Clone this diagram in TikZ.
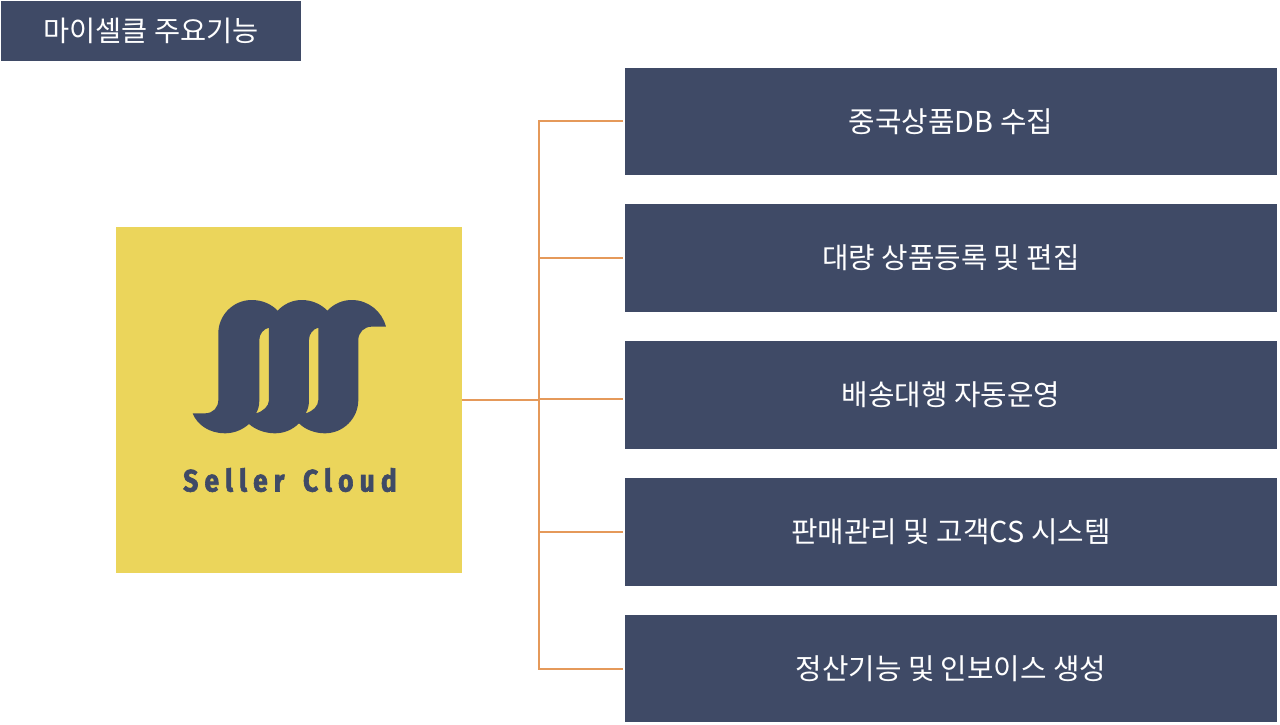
\documentclass[tikz,border=0pt]{standalone}
\usepackage{fontspec}
\usetikzlibrary{calc}
\setmainfont{Noto Sans CJK KR}
\newfontfamily\logofont[LetterSpace=20,FakeStretch=0.85,WordSpace=1.5,BoldFeatures={FakeBold=2}]{Fira Sans}
\definecolor{navy}{HTML}{3F4A66}
\definecolor{gold}{HTML}{EBD55B}
\definecolor{wire}{HTML}{E5995A}
\tikzset{
  panel/.style={fill=navy,draw=none,inner sep=0pt,text=white,font=\fontsize{28.8}{32}\selectfont},
  conn/.style={draw=wire,line width=1.6pt},
}
\begin{document}
\begin{tikzpicture}[x=1pt,y=-1pt]
\useasboundingbox (0,0) rectangle (1280,725);
\node[panel,minimum width=300pt,minimum height=60.5pt,font=\fontsize{28.4}{32}\selectfont] (title) at (151,31) {마이셀클 주요기능};
\node[fill=gold,inner sep=0pt,minimum width=346pt,minimum height=346pt] (card) at (289,400) {};
\foreach \n/\y/\h/\t in {a/121.5/107/중국상품DB 수집,b/258/108/대량 상품등록 및 편집,c/395/108/배송대행 자동운영,d/532/108/판매관리 및 고객CS 시스템,e/668.5/107/정산기능 및 인보이스 생성}{
  \node[panel,minimum width=652pt,minimum height=\h pt] (\n) at (951,\y) {\t};
}
% logo
\begin{scope}[shift={(170,280)},x=0.3333pt,y=-0.3333pt]
\fill[navy,even odd rule]
 (68,400) -- (105,400) .. controls (130,400) and (145,382) .. (145,360)
 -- (145,160) .. controls (145,105) and (190,60) .. (245,60)
 .. controls (276,60) and (304,72) .. (323,92)
 .. controls (342,72) and (367,60) .. (395,60)
 .. controls (425,60) and (453,72) .. (472,92)
 .. controls (491,72) and (517,60) .. (545,60)
 .. controls (595,60) and (636,94) .. (648,140)
 -- (605,140) .. controls (582,140) and (565,158) .. (565,180)
 -- (565,360) .. controls (565,415) and (520,460) .. (465,460)
 .. controls (435,460) and (406,449) .. (387,430)
 .. controls (368,449) and (343,460) .. (315,460)
 .. controls (285,460) and (256,449) .. (237,432)
 .. controls (218,449) and (193,460) .. (165,460)
 .. controls (120,460) and (82,436) .. (68,400) -- cycle
 (297,143) .. controls (280,147) and (268,162) .. (268,180)
 -- (268,360) .. controls (268,376) and (265,389) .. (258,400)
 .. controls (280,394) and (297,378) .. (297,360) -- cycle
 (445,143) .. controls (429,147) and (417,162) .. (417,180)
 -- (417,360) .. controls (417,376) and (414,389) .. (407,400)
 .. controls (429,394) and (445,378) .. (445,360) -- cycle;
\end{scope}
\node[inner sep=0pt,text=navy] (brand) at (290,480) {\logofont\bfseries\fontsize{31}{34}\selectfont Seller Cloud};
% connectors
\coordinate (trunk) at (539,400);
\coordinate (ja) at (539,121);
\coordinate (jc) at (539,399);
\coordinate (je) at (539,669);
\draw[conn] (card.east) -- (trunk);
\draw[conn] (ja) -- ($(ja -| a.west)+(-2,0)$);
\draw[conn,line cap=rect] (ja) -- (je);
\draw[conn,shorten <=2pt] (b.west) -- (b.west -| trunk);
\draw[conn] (jc) -- ($(jc -| c.west)+(-2,0)$);
\draw[conn,shorten <=2pt] (d.west) -- (d.west -| trunk);
\draw[conn] (je) -- ($(je -| e.west)+(-2,0)$);
\end{tikzpicture}
\end{document}
